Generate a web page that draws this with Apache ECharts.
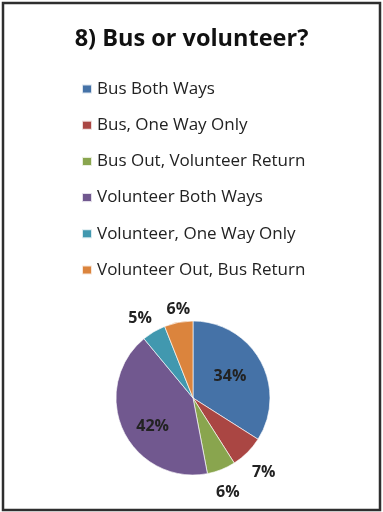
<!DOCTYPE html>
<html>
<head>
<meta charset="utf-8">
<script src="https://cdn.jsdelivr.net/npm/echarts@6/dist/echarts.min.js"></script>
<style>
  html, body { margin: 0; padding: 0; background: #fff; }
  #chart { width: 383px; height: 512px; }
</style>
</head>
<body>
<div id="chart"></div>
<script>
// Survey question 8: how riders get to and from the event
const titleText = '8) Bus or volunteer?';
const categories = [
  'Bus Both Ways',
  'Bus, One Way Only',
  'Bus Out, Volunteer Return',
  'Volunteer Both Ways',
  'Volunteer, One Way Only',
  'Volunteer Out, Bus Return'
];
const percents = [34, 7, 6, 42, 5, 6];

const colors = ['#4572A7', '#AA4643', '#89A54E', '#71588F', '#4198AF', '#DB843D'];
// slices large enough to carry their label inside the pie
const insideLabel = [true, false, false, true, false, false];
// small per-slice nudges so the labels sit where Excel's best-fit put them
const labelNudge = [[-6, 2], [0, 4], [-2, 1], [4, 8], [-2, 7], [4, 10]];

const FONT = '"Open Sans", Lato, sans-serif';
const center = [193, 398];
const R = 77;

const pieData = categories.map((name, i) => ({ name, value: percents[i] }));

function labelData(showInside) {
  return categories.map((name, i) => ({
    name,
    value: percents[i],
    label: { show: insideLabel[i] === showInside, offset: labelNudge[i] }
  }));
}

const labelStyle = {
  position: 'inside',
  formatter: '{c}%',
  fontFamily: FONT,
  fontSize: 16,
  fontWeight: 'bold',
  color: '#222'
};

const chart = echarts.init(document.getElementById('chart'), null, { renderer: 'canvas' });
chart.setOption({
  animation: false,
  color: colors,
  graphic: [{
    type: 'rect',
    shape: { x: 3, y: 3, width: 377, height: 507 },
    style: { fill: 'none', stroke: '#2e2e2e', lineWidth: 2.5 },
    z: 100
  }],
  title: {
    text: titleText,
    left: 'center',
    top: 22,
    textStyle: { fontFamily: FONT, fontSize: 23.5, fontWeight: 'bold', color: '#111' }
  },
  legend: {
    orient: 'vertical',
    left: 81,
    top: 80.5,
    padding: 0,
    data: categories,
    icon: 'rect',
    itemWidth: 10,
    itemHeight: 9,
    itemGap: 19.2,
    textStyle: { fontFamily: FONT, fontSize: 17, lineHeight: 17, color: '#222' },
    selectedMode: false
  },
  series: [
    {
      type: 'pie',
      center: center,
      radius: [0, R],
      startAngle: 90,
      clockwise: true,
      avoidLabelOverlap: false,
      label: { show: false },
      labelLine: { show: false },
      itemStyle: { borderColor: 'rgba(255,255,255,0.8)', borderWidth: 0.8 },
      data: pieData
    },
    {
      // labels placed inside the two largest slices
      type: 'pie',
      silent: true,
      center: center,
      radius: [0, 92],
      startAngle: 90,
      clockwise: true,
      avoidLabelOverlap: false,
      itemStyle: { color: 'rgba(0,0,0,0)' },
      label: labelStyle,
      labelLine: { show: false },
      data: labelData(true),
      z: 3
    },
    {
      // labels just outside the smaller slices
      type: 'pie',
      silent: true,
      center: center,
      radius: [R, 117],
      startAngle: 90,
      clockwise: true,
      avoidLabelOverlap: false,
      itemStyle: { color: 'rgba(0,0,0,0)' },
      label: labelStyle,
      labelLine: { show: false },
      data: labelData(false),
      z: 3
    }
  ]
});
</script>
</body>
</html>
